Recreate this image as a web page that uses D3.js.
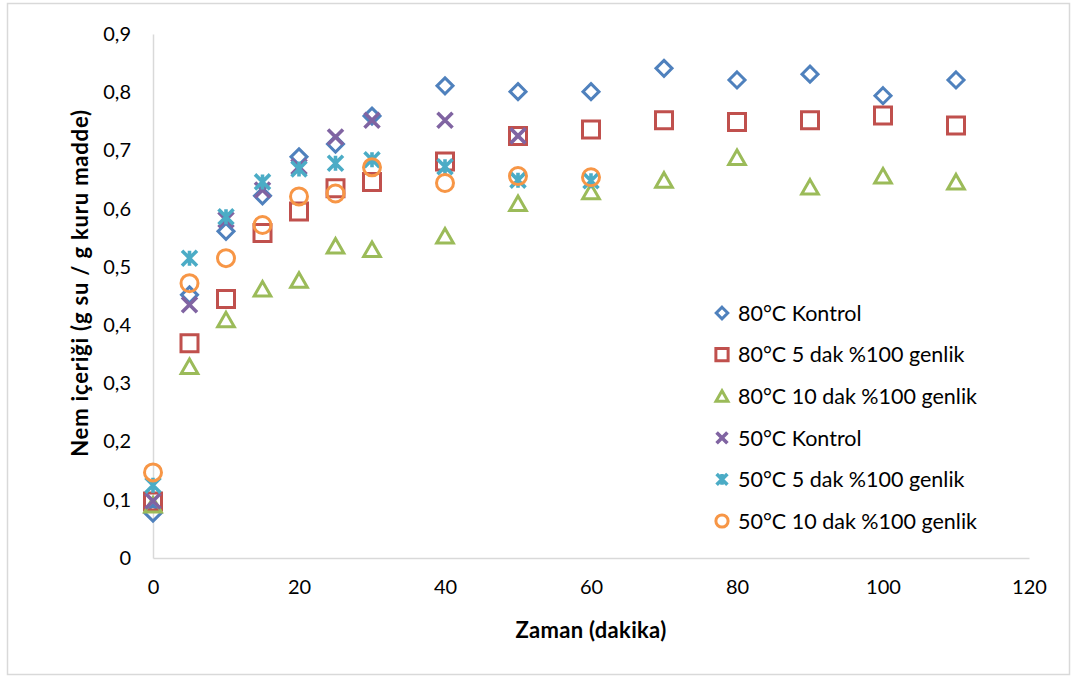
<!DOCTYPE html>
<html>
<head>
<meta charset="utf-8">
<script src="https://cdn.jsdelivr.net/npm/d3@7"></script>
<style>
  body { margin: 0; background: #fff; }
  text { font-family: Lato, "Open Sans", sans-serif; fill: #000; }
</style>
</head>
<body>
<div class="chart"></div>
<script>
// data
var times80 = [0, 5, 10, 15, 20, 25, 30, 40, 50, 60, 70, 80, 90, 100, 110];
var kontrol80 = [0.077, 0.452, 0.561, 0.622, 0.689, 0.711, 0.759, 0.811, 0.801, 0.801, 0.841, 0.821, 0.831, 0.794, 0.821];
var dak5_80 = [0.097, 0.369, 0.445, 0.558, 0.595, 0.635, 0.646, 0.681, 0.725, 0.736, 0.752, 0.749, 0.752, 0.760, 0.743];
var dak10_80 = [0.091, 0.329, 0.409, 0.462, 0.477, 0.536, 0.530, 0.553, 0.609, 0.629, 0.649, 0.688, 0.637, 0.656, 0.646];

var timesKontrol50 = [0, 5, 10, 15, 20, 25, 30, 40, 50];
var kontrol50 = [0.098, 0.435, 0.581, 0.632, 0.672, 0.723, 0.752, 0.752, 0.725];

var times50 = [0, 5, 10, 15, 20, 25, 30, 40, 50, 60];
var dak5_50 = [0.125, 0.515, 0.586, 0.646, 0.668, 0.678, 0.684, 0.672, 0.649, 0.648];
var dak10_50 = [0.147, 0.472, 0.515, 0.572, 0.621, 0.626, 0.671, 0.644, 0.656, 0.654];

var seriesNames = ["80°C Kontrol", "80°C 5 dak %100 genlik", "80°C 10 dak %100 genlik",
                   "50°C Kontrol", "50°C 5 dak %100 genlik", "50°C 10 dak %100 genlik"];
var xTicks = [0, 20, 40, 60, 80, 100, 120];
var yTicks = [0, 0.1, 0.2, 0.3, 0.4, 0.5, 0.6, 0.7, 0.8, 0.9];

var series = [
  { name: seriesNames[0], x: times80, y: kontrol80, shape: "diamond", color: "#4F81BD" },
  { name: seriesNames[1], x: times80, y: dak5_80, shape: "square", color: "#C0504D" },
  { name: seriesNames[2], x: times80, y: dak10_80, shape: "triangle", color: "#9BBB59" },
  { name: seriesNames[3], x: timesKontrol50, y: kontrol50, shape: "cross", color: "#8064A2" },
  { name: seriesNames[4], x: times50, y: dak5_50, shape: "star", color: "#4BACC6" },
  { name: seriesNames[5], x: times50, y: dak10_50, shape: "circle", color: "#F79646" }
];

var svgWidth = 1078, svgHeight = 679;

var svg = d3.select(".chart")
  .append("svg")
  .attr("width", svgWidth)
  .attr("height", svgHeight);

// outer chart border
svg.append("rect")
  .attr("x", 7.5).attr("y", 3.5)
  .attr("width", 1062).attr("height", 671)
  .attr("fill", "none")
  .attr("stroke", "#D9D9D9")
  .attr("stroke-width", 1.5);

var xScale = d3.scaleLinear().domain([0, 120]).range([153, 1029]);
var yScale = d3.scaleLinear().domain([0, 0.9]).range([558, 34]);

// marker path for a given shape, s = scale factor
function markerPath(shape, s) {
  var p = d3.path();
  if (shape === "diamond") {
    var r = 8 * s;
    p.moveTo(0, -r); p.lineTo(r, 0); p.lineTo(0, r); p.lineTo(-r, 0); p.closePath();
  } else if (shape === "square") {
    var h = 8.5 * s;
    p.rect(-h, -h, 2 * h, 2 * h);
  } else if (shape === "triangle") {
    p.moveTo(0, -7.5 * s); p.lineTo(8.3 * s, 7 * s); p.lineTo(-8.3 * s, 7 * s); p.closePath();
  } else if (shape === "cross") {
    var c = 7.5 * s;
    p.moveTo(-c, -c); p.lineTo(c, c); p.moveTo(c, -c); p.lineTo(-c, c);
  } else if (shape === "star") {
    var c = 7.5 * s;
    p.moveTo(-c, -c); p.lineTo(c, c); p.moveTo(c, -c); p.lineTo(-c, c);
    p.moveTo(0, -c); p.lineTo(0, c);
  } else if (shape === "circle") {
    var rc = 8.5 * s;
    p.moveTo(rc, 0); p.arc(0, 0, rc, 0, 2 * Math.PI);
  }
  return p.toString();
}

function strokeFor(shape) {
  return (shape === "cross" || shape === "star") ? 3.6 : 3;
}

// axes (no tick marks, light grey lines)
var xAxis = d3.axisBottom(xScale).tickValues(xTicks).tickSize(0).tickPadding(22)
  .tickFormat(d3.format("d"));
var yAxis = d3.axisLeft(yScale).tickValues(yTicks).tickSize(0).tickPadding(22)
  .tickFormat(function(d) { return d === 0 ? "0" : d3.format(".1f")(d).replace(".", ","); });

var gx = svg.append("g")
  .attr("transform", "translate(0," + 558 + ")")
  .call(xAxis);
var gy = svg.append("g")
  .attr("transform", "translate(" + 153 + ",0)")
  .call(yAxis);

[gx, gy].forEach(function(g) {
  g.select(".domain").attr("stroke", "#D9D9D9").attr("stroke-width", 1.5);
  g.selectAll("text")
    .style("font-family", "Lato, sans-serif")
    .style("font-size", "20px")
    .attr("fill", "#000");
});
gx.selectAll("text").attr("dy", "0.71em").attr("y", 22);

// axis titles
svg.append("text")
  .attr("x", 591).attr("y", 638)
  .attr("text-anchor", "middle")
  .style("font-size", "22px")
  .style("font-weight", "bold")
  .style("letter-spacing", "0.3px")
  .text("Zaman (dakika)");

svg.append("text")
  .attr("transform", "translate(88,283) rotate(-90)")
  .attr("text-anchor", "middle")
  .style("font-size", "22px")
  .style("font-weight", "bold")
  .style("letter-spacing", "0.8px")
  .text("Nem içeriği (g su / g kuru madde)");

// points
series.forEach(function(s) {
  var pts = s.x.map(function(t, i) { return { t: t, v: s.y[i] }; });
  svg.append("g")
    .selectAll("path")
    .data(pts)
    .enter()
    .append("path")
    .attr("transform", function(d) { return "translate(" + xScale(d.t) + "," + yScale(d.v) + ")"; })
    .attr("d", markerPath(s.shape, 1))
    .attr("fill", "none")
    .attr("stroke", s.color)
    .attr("stroke-width", strokeFor(s.shape));
});

// legend
var legend = svg.append("g").attr("transform", "translate(722,313)");
var legendItems = legend.selectAll("g")
  .data(series)
  .enter()
  .append("g")
  .attr("transform", function(d, i) { return "translate(0," + (i * 41.6) + ")"; });

legendItems.append("path")
  .attr("d", function(d) { return markerPath(d.shape, 0.72); })
  .attr("fill", "none")
  .attr("stroke", function(d) { return d.color; })
  .attr("stroke-width", function(d) { return strokeFor(d.shape); });

legendItems.append("text")
  .attr("x", 16)
  .attr("dy", "0.36em")
  .style("font-size", "21.5px")
  .text(function(d) { return d.name; });
</script>
</body>
</html>
